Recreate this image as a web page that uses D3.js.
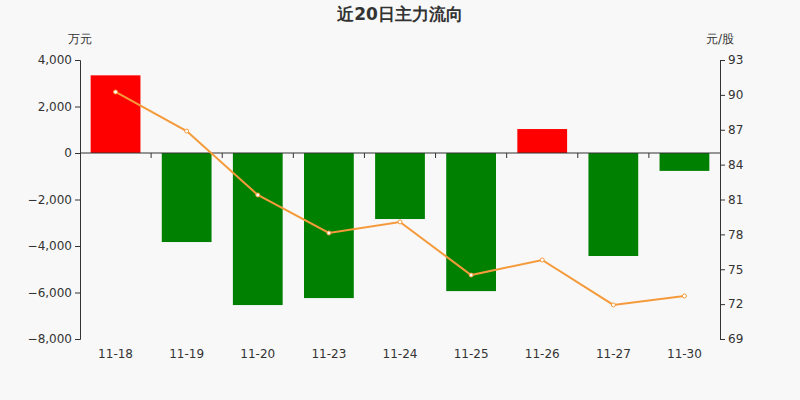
<!DOCTYPE html><html><head><meta charset="utf-8"><script src="https://cdn.jsdelivr.net/npm/d3@7"></script>
<style>body{margin:0;background:#f8f8f8}text{font-family:"DejaVu Sans",sans-serif}</style></head><body><svg id="c" width="800" height="400"></svg><script>
const categories=["11-18","11-19","11-20","11-23","11-24","11-25","11-26","11-27","11-30"];
const flows=[3340,-3830,-6540,-6240,-2840,-5940,1030,-4430,-770];
const prices=[90.25,86.89,81.39,78.12,79.07,74.5,75.8,71.93,72.7];
const leftTicks=[4000,2000,0,-2000,-4000,-6000,-8000];
const rightTicks=[93,90,87,84,81,78,75,72,69];
const svg=d3.select("#c");
svg.append("rect").attr("width",800).attr("height",400).attr("fill","#f8f8f8");
const L=80,R=720,T=60,B=339;
const x=d3.scaleBand().domain(categories).range([L,R]).paddingInner(0.3).paddingOuter(0.15);
const xb=d3.scaleBand().domain(categories).range([L,R]);
const y=d3.scaleLinear().domain([-8000,4000]).range([B,T]);
const y2=d3.scaleLinear().domain([69,93]).range([B,T]);
svg.append("text").attr("x",400).attr("y",20).attr("text-anchor","middle").attr("font-size",17).attr("font-weight","bold").attr("fill","#333").text("近20日主力流向");
svg.append("text").attr("x",80).attr("y",43).attr("text-anchor","middle").attr("font-size",12).attr("fill","#333").text("万元");
svg.append("text").attr("x",720).attr("y",43).attr("text-anchor","middle").attr("font-size",12).attr("fill","#333").text("元/股");
const ga=svg.append("g").attr("transform",`translate(${L},0)`).call(d3.axisLeft(y).tickValues(leftTicks).tickFormat(d3.format(",")).tickSize(5));
const gb=svg.append("g").attr("transform",`translate(${R},0)`).call(d3.axisRight(y2).tickValues(rightTicks).tickSize(5));
[ga,gb].forEach(g=>{g.selectAll("path,line").attr("stroke","#333");g.selectAll("text").attr("font-size",12).attr("fill","#333");});
svg.selectAll(".bar").data(categories).enter().append("rect")
 .attr("x",d=>x(d)).attr("width",x.bandwidth())
 .attr("y",(d,i)=>y(Math.max(0,flows[i]))).attr("height",(d,i)=>Math.abs(y(flows[i])-y(0)))
 .attr("fill",(d,i)=>flows[i]>=0?"#ff0000":"#008000");
svg.append("line").attr("x1",L).attr("x2",R).attr("y1",y(0)).attr("y2",y(0)).attr("stroke","#333");
categories.forEach((d,i)=>{ if(i>0) svg.append("line").attr("x1",xb(d)).attr("x2",xb(d)).attr("y1",y(0)).attr("y2",y(0)+5).attr("stroke","#333");
 svg.append("text").attr("x",xb(d)+xb.bandwidth()/2).attr("y",358).attr("text-anchor","middle").attr("font-size",12).attr("fill","#333").text(d);});
const cx=d=>xb(d)+xb.bandwidth()/2;
svg.append("path").datum(prices).attr("fill","none").attr("stroke","#f59a3a").attr("stroke-width",2)
 .attr("d",d3.line().x((d,i)=>cx(categories[i])).y(d=>y2(d)));
svg.selectAll(".pt").data(prices).enter().append("circle").attr("cx",(d,i)=>cx(categories[i])).attr("cy",d=>y2(d)).attr("r",2).attr("fill","#fff").attr("stroke","#f59a3a");
</script></body></html>
